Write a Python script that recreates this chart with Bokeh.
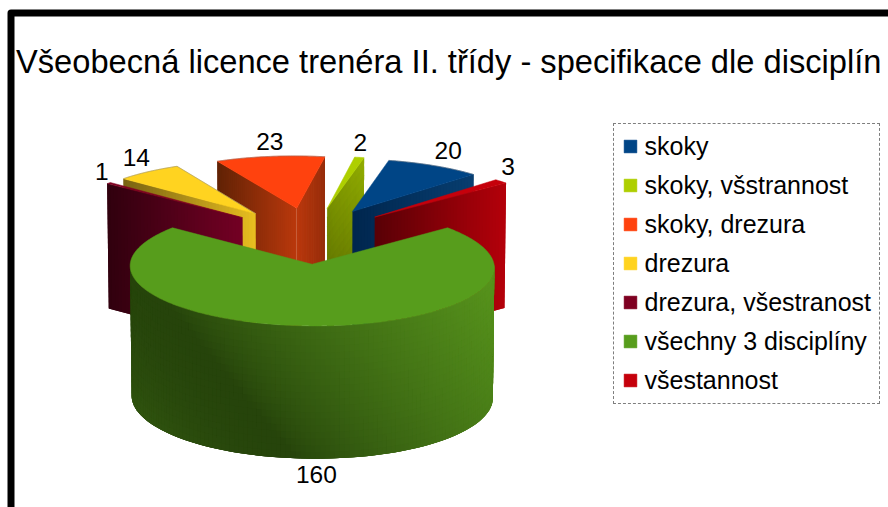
import math
from bokeh.embed import file_html
from bokeh.resources import INLINE
from bokeh.plotting import figure
from bokeh.models import Range1d, Legend, LegendItem
from bokeh.core.properties import value

TITLE = "Všeobecná licence trenéra II. třídy - specifikace dle disciplín"
categories = ["skoky", "skoky, vš" + "strannost", "skoky, drezura", "drezura",
              "drezura, všestranost", "všechny 3 disciplíny", "všestannost"]
values = [20, 2, 23, 14, 1, 160, 3]
colors = ["#004586", "#aecf00", "#ff420e", "#ffd320", "#7e0021", "#579d1c", "#c5000b"]

START = 44.0
R = 178.0
EXPLODE = 88.0
CX, CY = 310.0, 235.0
H = 128.0
FONT = "Liberation Sans"
label_nudge = [(14, -15), (1, -15), (0, -15), (-12, -14), (-7, -12), (1, 16), (7, -15)]
draw_order = [2, 1, 0, 6, 3, 4, 5]

# colour stops of the shaded walls: (start-edge face, end-edge face), from the tip outwards
face_stops = {
    0: ([(0, 38, 78), (8, 62, 112)], None),
    1: ([(100, 120, 0), (125, 148, 0)], None),
    2: ([(186, 56, 12), (150, 44, 10)], [(186, 56, 12), (96, 34, 5)]),
    3: (None, [(232, 190, 32), (120, 98, 18)]),
    4: (None, [(116, 0, 36), (48, 0, 14)]),
    5: (None, None),
    6: ([(88, 0, 6), (180, 0, 10)], None),
}
face_vertical = {1: 0.35}   # top-to-bottom shading of a wall


def proj(X, Y, z=0.0):
    s = 1 - (0.00015 if Y > 0 else 0.00025) * Y
    x = CX + X * s * (1 - 0.008 * z) - 0.018 * Y
    y = CY - (0.32 * Y - 0.000075 * Y * Y) + z * H * (1 - 0.00014 * Y)
    return x, y


def mix(a, b, t):
    t = max(0.0, min(1.0, t))
    return tuple(int(round(a[i] + (b[i] - a[i]) * t)) for i in range(3))


def hexc(c):
    return "#%02x%02x%02x" % tuple(min(255, max(0, int(v))) for v in c)


def green_wall(x, y):
    d = (x - 193) * 0.768 - (y - 333) * 0.64
    dark = (38, 68, 11)
    light = (86, 146, 28)
    if d >= 0:
        return mix(dark, light, (d / 260) ** 0.75)
    return mix(dark, light, 0.22 * min(1.0, -d / 100) ** 2)


p = figure(width=888, height=507, output_backend="svg", toolbar_location=None,
           x_range=Range1d(0, 888), y_range=Range1d(507, 0), min_border=0,
           x_axis_type=None, y_axis_type=None, outline_line_color=None)
p.grid.visible = False

total = float(sum(values))
angles = []
a = START
for v in values:
    angles.append((a, a + v / total * 360.0))
    a += v / total * 360.0

tops = {}
for i in draw_order:
    a0, a1 = angles[i]
    mid = math.radians((a0 + a1) / 2)
    ox, oy = EXPLODE * math.cos(mid), EXPLODE * math.sin(mid)

    def rim(deg, frac=1.0):
        t = math.radians(deg)
        return ox + frac * R * math.cos(t), oy + frac * R * math.sin(t)

    # radial walls: each strip overlaps the next one, which paints over the seam
    for deg, stops in zip((a0, a1), face_stops[i]):
        if stops is None:
            continue
        n = 40
        vert = face_vertical.get(i, 0.0)
        rows = 14 if vert else 1
        xs, ys, cs = [], [], []
        for k in range(n):
            f0, f1 = k / n, min(1.0, (k + 2) / n)
            P0, P1 = rim(deg, f0), rim(deg, f1)
            base = mix(stops[0], stops[1], (k + 0.5) / n)
            for r in range(rows):
                z0, z1 = r / rows, min(rows, r + 2) / rows
                q = [proj(*P0, z0), proj(*P1, z0), proj(*P1, z1), proj(*P0, z1)]
                xs.append([c[0] for c in q])
                ys.append([c[1] for c in q])
                m = 1 + vert * (0.5 - (r + 0.5) / rows)
                cs.append(hexc([c * m for c in base]))
        p.patches(xs, ys, fill_color=cs, line_color=None)

    # outer wall, only the part that faces the viewer
    if a1 - a0 > 180:
        lo, hi = max(a0, 180.0), min(a1, 360.0)
        cols, rows = 120, 20
        xs, ys, cs = [], [], []
        for k in range(cols):
            d0 = lo + (hi - lo) * k / cols
            d1 = lo + (hi - lo) * min(cols, k + 2) / cols
            for r in range(rows):
                z0, z1 = r / rows, min(rows, r + 2) / rows
                q = [proj(*rim(d0), z0), proj(*rim(d1), z0), proj(*rim(d1), z1), proj(*rim(d0), z1)]
                xs.append([c[0] for c in q])
                ys.append([c[1] for c in q])
                cx_, cy_ = proj(*rim(lo + (hi - lo) * (k + 0.5) / cols), (r + 0.5) / rows)
                cs.append(hexc(green_wall(cx_, cy_)))
        p.patches(xs, ys, fill_color=cs, line_color=None)

    # top surface
    steps = max(6, int((a1 - a0) * 1.5))
    arc = [rim(a0 + (a1 - a0) * k / steps) for k in range(steps + 1)]
    sc = [proj(*c) for c in [(ox, oy)] + arc]
    tops[i] = p.patch([c[0] for c in sc], [c[1] for c in sc], fill_color=colors[i], line_color=colors[i], line_width=0.5)
    # faint grey highlight along the far edges
    if i in (0, 2, 3):
        edge = sc if i == 3 else sc[1:]
        p.line([c[0] for c in edge], [c[1] for c in edge], line_color="#808080", line_alpha=0.6, line_width=0.8)

# value labels
lx, ly, lt = [], [], []
for i, v in enumerate(values):
    a0, a1 = angles[i]
    mid = math.radians((a0 + a1) / 2)
    X = (EXPLODE + R) * math.cos(mid)
    Y = (EXPLODE + R) * math.sin(mid)
    x, y = proj(X, Y, 1.0 if math.sin(mid) < 0 else 0.0)
    lx.append(x + label_nudge[i][0])
    ly.append(y + label_nudge[i][1])
    lt.append(str(v))
p.text(lx, ly, text=lt, text_font=value(FONT), text_font_size="24.5px", text_color="#000000",
       text_align="center", text_baseline="middle")

# title
p.text([15.5], [61], text=[TITLE], text_font=value(FONT), text_font_size="32.65px", text_color="#000000",
       text_align="left", text_baseline="middle")

# page frame
p.line([10.5, 10.5, 900], [520, 12.5, 12.5], line_color="#000000", line_width=7, line_join="round")

legend = Legend(items=[LegendItem(label=c, renderers=[tops[i]]) for i, c in enumerate(categories)],
                location=(612.5, 103.5), orientation="vertical",
                label_text_font=FONT, label_text_font_size="25px", label_text_color="#000000",
                glyph_width=16, glyph_height=16, spacing=10, padding=8, margin=0, label_standoff=7,
                label_height=28, border_line_color="#000000", border_line_dash="3 2", border_line_width=1,
                background_fill_color="#ffffff", background_fill_alpha=1.0)
p.add_layout(legend)

open("out.html", "w").write(file_html(p, INLINE))
